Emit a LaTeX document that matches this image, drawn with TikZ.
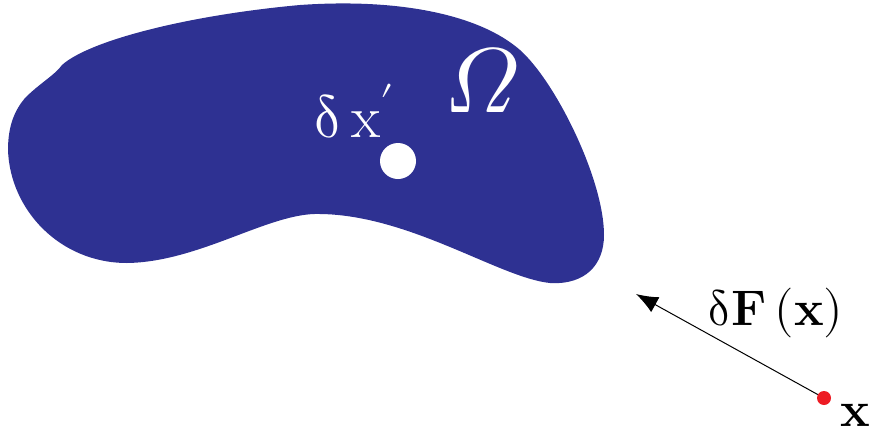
\documentclass[tikz,border=0pt]{standalone}
\usepackage{unicode-math}
\usetikzlibrary{arrows.meta,positioning}
\definecolor{blobBlue}{RGB}{46, 49, 146}
\definecolor{dotRed}{RGB}{237, 28, 36}

\begin{document}
\begin{tikzpicture}[x=0.5pt, y=-0.5pt, line cap=round, line join=round,
    lbl/.style={inner sep=0pt, anchor=base west, font=\fontsize{25}{30}\selectfont},
    force/.style={-{Latex[length=11pt,width=8.5pt]}, line width=0.5pt, black}]
        \useasboundingbox (0,0) rectangle (869,434);
        % domain
        \fill[blobBlue] (62,65)
            .. controls (90,40) and (190,15) .. (300,5)
            .. controls (400,-2) and (480,15) .. (520,50)
            .. controls (556,82) and (604,180) .. (604,235)
            .. controls (604,265) and (585,285) .. (550,283)
            .. controls (500,278) and (410,215) .. (320,214)
            .. controls (270,212) and (200,262) .. (127,263)
            .. controls (60,263) and (10,210) .. (8,150)
            .. controls (8,125) and (15,110) .. (25,98)
            .. controls (40,83) and (55,75) .. (62,65) -- cycle;
        \node[circle, fill=white, inner sep=0pt, minimum size=18pt] (hole) at (398,161) {};
        \node[lbl, white, font=\fontsize{30}{36}\selectfont] (dxp) at (313,137) {$\updelta\,\mathrm{x}'$};
        \node[lbl, white, font=\fontsize{46}{52}\selectfont] (omega) at (444,112) {$\symit{\Omega}$};
        % source point and force
        \node[circle, fill=dotRed, inner sep=0pt, minimum size=7pt] (src) at (824,398) {};
        \coordinate (tip) at (636,294);
        \draw[force] (src) -- (tip);
        \node[lbl] (dF) at (707,325) {$\updelta\mathbf{F}\left(\mathbf{x}\right)$};
        \node[lbl] (xpt) at (840,426) {$\mathbf{x}$};
    \end{tikzpicture}
\end{document}
